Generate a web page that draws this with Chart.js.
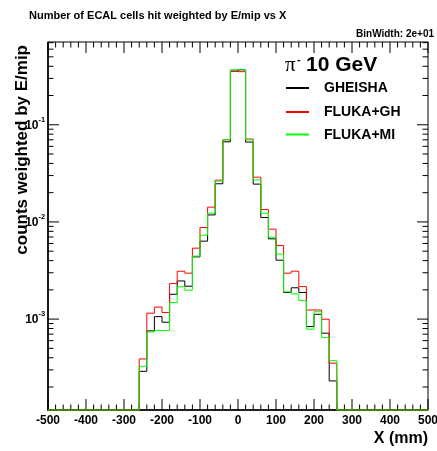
<!DOCTYPE html>
<html>
<head>
<meta charset="utf-8">
<script src="https://cdn.jsdelivr.net/npm/chart.js@4.4.1/dist/chart.umd.min.js"></script>
<style>
html,body{margin:0;padding:0;background:#fff;}
#wrap{width:437px;height:451px;}
</style>
</head>
<body>
<div id="wrap"><canvas id="grafica" width="437" height="451"></canvas></div>
<script>
// 50 bins of 20 mm between -500 and 500, only -260..260 has entries
const xMin = -500, xMax = 500, binWidth = 20
const firstEdge = -260

const gheisha = [2.90e-4, 7.56e-4, 1.06e-3, 9.29e-4, 1.80e-3, 2.47e-3, 2.18e-3, 4.37e-3, 6.34e-3, 1.18e-2, 2.47e-2, 6.68e-2, 0.357,
                 0.368, 0.0664, 0.0245, 0.0111, 6.70e-3, 4.04e-3, 1.88e-3, 2.10e-3, 1.88e-3, 8.37e-4, 1.12e-3, 7.16e-4, 2.31e-4]
const flukaGh = [3.89e-4, 1.15e-3, 1.33e-3, 1.17e-3, 2.32e-3, 3.11e-3, 2.97e-3, 5.37e-3, 8.77e-3, 1.42e-2, 2.69e-2, 7.01e-2, 0.357,
                 0.352, 0.0713, 0.0289, 0.0134, 8.43e-3, 5.71e-3, 2.97e-3, 3.11e-3, 2.16e-3, 1.24e-3, 1.24e-3, 9.97e-4, 3.52e-4]
const flukaMi = [3.27e-4, 7.38e-4, 7.62e-4, 7.62e-4, 1.48e-3, 2.15e-3, 1.98e-3, 4.45e-3, 7.31e-3, 1.23e-2, 2.63e-2, 7.01e-2, 0.368,
                 0.368, 0.0701, 0.0271, 0.0123, 6.97e-3, 4.66e-3, 1.91e-3, 1.82e-3, 1.55e-3, 7.87e-4, 1.19e-3, 6.45e-4, 3.74e-4]

const yMin = 1.16e-4, yMax = 0.711
const xTicks = [-500, -400, -300, -200, -100, 0, 100, 200, 300, 400, 500]
const yDecades = [1e-3, 1e-2, 1e-1]
const yExps = ['-3', '-2', '-1']

const series = [
    {name: 'GHEISHA', vals: gheisha, color: '#000000'},
    {name: 'FLUKA+GH', vals: flukaGh, color: '#ff0000'},
    {name: 'FLUKA+MI', vals: flukaMi, color: '#00ff00'}
]

const FONT = '"Liberation Sans", Arial, Helvetica, sans-serif'

// histogram outline: one point per left bin edge, empty bins sit on the axis minimum
function histPoints(vals){
    let pts = []
    for(let x = xMin; x < xMax; x += binWidth){
        let i = (x - firstEdge) / binWidth
        let v = (i >= 0 && i < vals.length) ? vals[i] : 0
        pts.push({x: x, y: v > 0 ? v : yMin})
    }
    pts.push({x: xMax, y: pts[pts.length-1].y})
    return pts
}

// frame + inward ticks like a ROOT pad
const marco = {
    id: 'marco',
    beforeDatasetsDraw(chart){
        const ctx = chart.ctx
        const a = chart.chartArea
        const sx = chart.scales.x, sy = chart.scales.y
        ctx.save()
        ctx.strokeStyle = '#000'
        ctx.lineWidth = 1
        ctx.strokeRect(a.left, a.top, a.right - a.left, a.bottom - a.top)
        ctx.lineWidth = 1.6
        ctx.beginPath()
        ctx.moveTo(a.left, a.top); ctx.lineTo(a.left, a.bottom); ctx.lineTo(a.right, a.bottom)
        ctx.stroke()

        ctx.lineWidth = 1
        ctx.beginPath()
        for(let v = xMin; v <= xMax; v += binWidth){
            let px = sx.getPixelForValue(v)
            let len = (v % 100 === 0) ? 11 : 5.5
            ctx.moveTo(px, a.bottom); ctx.lineTo(px, a.bottom - len)
            ctx.moveTo(px, a.top); ctx.lineTo(px, a.top + len)
        }
        for(let d = -4; d <= 0; d++){
            for(let k = 1; k <= 9; k++){
                let v = k * Math.pow(10, d)
                if(v < yMin || v > yMax) continue
                let py = sy.getPixelForValue(v)
                let len = (k === 1) ? 11 : 5.5
                ctx.moveTo(a.left, py); ctx.lineTo(a.left + len, py)
                ctx.moveTo(a.right, py); ctx.lineTo(a.right - len, py)
            }
        }
        ctx.stroke()
        ctx.restore()
    },
    afterDraw(chart){
        const ctx = chart.ctx
        const a = chart.chartArea
        const sx = chart.scales.x, sy = chart.scales.y
        ctx.save()
        ctx.fillStyle = '#000'

        // title
        ctx.font = 'bold 11px ' + FONT
        ctx.textAlign = 'left'; ctx.textBaseline = 'alphabetic'
        ctx.fillText('Number of ECAL cells hit weighted by E/mip vs X', 29, 19)
        ctx.font = 'bold 10px ' + FONT
        ctx.textAlign = 'right'
        ctx.fillText('BinWidth: 2e+01', 434, 37)

        // x tick labels
        ctx.font = 'bold 12px ' + FONT
        ctx.textAlign = 'center'; ctx.textBaseline = 'middle'
        xTicks.forEach(v => ctx.fillText(String(v), sx.getPixelForValue(v), 421))

        // y tick labels 10^n
        yDecades.forEach((v, i) => {
            let py = sy.getPixelForValue(v)
            ctx.font = 'bold 12px ' + FONT
            ctx.textAlign = 'right'; ctx.textBaseline = 'middle'
            ctx.fillText('10', 38.5, py + 1)
            ctx.font = 'bold 7.5px ' + FONT
            ctx.textAlign = 'left'
            ctx.fillText(yExps[i], 38.5, py - 5)
        })

        // axis titles
        ctx.font = 'bold 16px ' + FONT
        ctx.textAlign = 'right'; ctx.textBaseline = 'alphabetic'
        ctx.fillText('X (mm)', a.right, 443)
        ctx.save()
        ctx.translate(27, a.top + 3)
        ctx.rotate(-Math.PI / 2)
        ctx.font = 'bold 17px ' + FONT
        ctx.textAlign = 'right'
        ctx.fillText('counts weighted by E/mip', 0, 0)
        ctx.restore()

        // legend
        ctx.textAlign = 'left'; ctx.textBaseline = 'alphabetic'
        ctx.font = '21px "Liberation Serif", "DejaVu Serif", serif'
        ctx.fillText('\u03c0', 285, 71)
        ctx.font = 'bold 11px ' + FONT
        ctx.fillText('-', 297, 63)
        ctx.font = 'bold 21px ' + FONT
        ctx.fillText('10 GeV', 306, 71)

        const rows = [88, 112, 134.5]
        series.forEach((s, i) => {
            ctx.strokeStyle = s.color
            ctx.lineWidth = 2
            ctx.beginPath()
            ctx.moveTo(286, rows[i]); ctx.lineTo(309, rows[i])
            ctx.stroke()
            ctx.font = 'bold 14px ' + FONT
            ctx.textBaseline = 'middle'
            ctx.fillText(s.name, 324, rows[i] + 0.5)
        })
        ctx.restore()
    }
}

const chart = new Chart(document.getElementById('grafica'), {
    type: 'line',
    data: {
        datasets: series.map((s, i) => ({
            label: s.name,
            data: histPoints(s.vals),
            borderColor: s.color,
            borderWidth: 1,
            pointRadius: 0,
            stepped: true,
            fill: false,
            clip: false,
            order: series.length - 1 - i
        }))
    },
    options: {
        responsive: false,
        animation: false,
        events: [],
        layout: {padding: {left: 48, right: 9, top: 42, bottom: 41}},
        plugins: {legend: {display: false}, tooltip: {enabled: false}},
        scales: {
            x: {type: 'linear', min: xMin, max: xMax, display: false},
            y: {type: 'logarithmic', min: yMin, max: yMax, display: false}
        }
    },
    plugins: [marco]
})
</script>
</body>
</html>
